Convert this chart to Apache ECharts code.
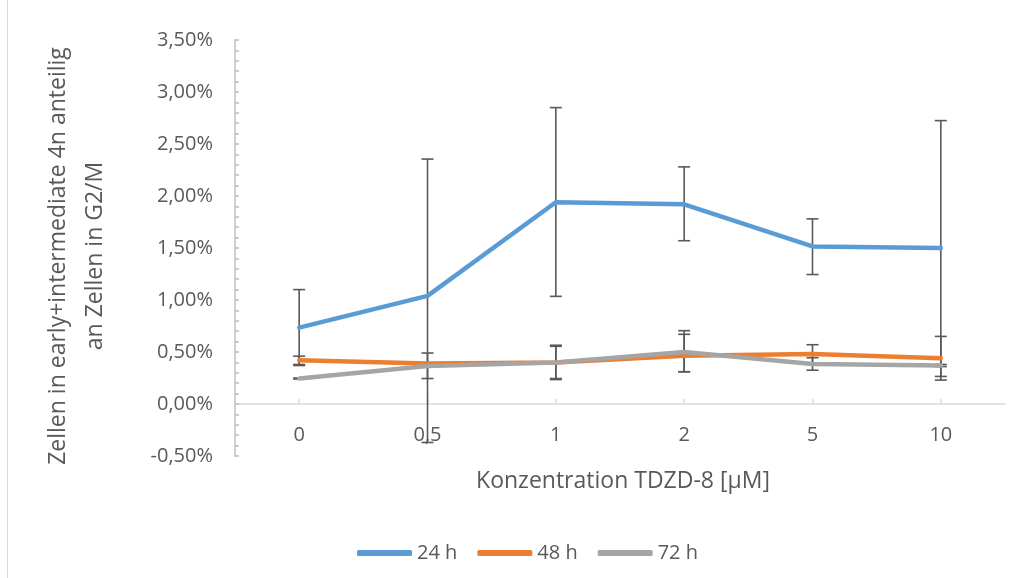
<!DOCTYPE html>
<html>
<head>
<meta charset="utf-8">
<script src="https://cdn.jsdelivr.net/npm/echarts@6/dist/echarts.min.js"></script>
<style>
html,body{margin:0;padding:0;background:#fff;}
#chart{width:1024px;height:578px;}
</style>
</head>
<body>
<div id="chart"></div>
<script>
// Categories (TDZD-8 concentration, µM)
const categories = ['0', '0,5', '1', '2', '5', '10'];
// Mean values in percent
const h24 = [0.735, 1.04, 1.94, 1.92, 1.515, 1.50];
const h48 = [0.42, 0.39, 0.40, 0.465, 0.48, 0.44];
const h72 = [0.245, 0.365, 0.40, 0.50, 0.385, 0.37];
// Error bar extents (plus / minus) in percent
const h24Plus  = [0.365, 1.315, 0.91, 0.36, 0.265, 1.225];
const h24Minus = [0.365, 1.41, 0.905, 0.35, 0.27, 1.235];
const h48Plus  = [0.04, 0.005, 0.165, 0.205, 0.09, 0.21];
const h48Minus = [0.04, 0.005, 0.165, 0.155, 0.09, 0.21];
const h72Plus  = [0.005, 0.125, 0.155, 0.205, 0.06, 0.01];
const h72Minus = [0.005, 0.12, 0.155, 0.19, 0.06, 0.01];
const seriesNames = ['24 h', '48 h', '72 h'];
const yTicks = [-0.5, 0, 0.5, 1, 1.5, 2, 2.5, 3, 3.5];

const colors = ['#5B9BD5', '#ED7D31', '#A5A5A5'];
const FONT = '"Open Sans", sans-serif';
const TXT = '#595959';

function errData(mean, plus, minus) {
  return mean.map((v, i) => [i, v - minus[i], v + plus[i]]);
}
function errSeries(name, data) {
  return {
    type: 'custom',
    name: name + ' err',
    data: data,
    silent: true,
    renderItem: function (params, api) {
      const i = api.value(0);
      const lo = api.coord([i, api.value(1)]);
      const hi = api.coord([i, api.value(2)]);
      const w = 6;
      const st = {stroke: '#595959', lineWidth: 1.6};
      return {
        type: 'group',
        children: [
          {type: 'line', shape: {x1: lo[0], y1: lo[1], x2: hi[0], y2: hi[1]}, style: st},
          {type: 'line', shape: {x1: lo[0] - w, y1: lo[1], x2: lo[0] + w, y2: lo[1]}, style: st},
          {type: 'line', shape: {x1: hi[0] - w, y1: hi[1], x2: hi[0] + w, y2: hi[1]}, style: st}
        ]
      };
    }
  };
}
function lineSeries(name, data, color) {
  return {
    type: 'line',
    name: name,
    data: data,
    symbol: 'none',
    color: color,
    lineStyle: {color: color, width: 4.5, cap: 'round', join: 'round'},
    emphasis: {disabled: true}
  };
}

const chart = echarts.init(document.getElementById('chart'));
chart.setOption({
  animation: false,
  backgroundColor: '#fff',
  grid: {left: 235, right: 19, top: 40, bottom: 122},
  legend: {
    data: seriesNames,
    left: 352,
    top: 538,
    icon: 'roundRect',
    itemWidth: 55,
    itemHeight: 6,
    itemGap: 20,
    textStyle: {fontFamily: FONT, fontSize: 20, color: TXT}
  },
  xAxis: {
    type: 'category',
    data: categories,
    boundaryGap: true,
    axisLine: {onZero: true, lineStyle: {color: '#D9D9D9', width: 1.5}},
    axisTick: {show: true, inside: true, length: 5, alignWithLabel: true, lineStyle: {color: '#D9D9D9', width: 1.5}},
    axisLabel: {fontFamily: FONT, fontSize: 20, color: TXT, margin: -31},
    splitLine: {show: false}
  },
  yAxis: {
    type: 'value',
    min: yTicks[0],
    max: yTicks[yTicks.length - 1],
    interval: 0.5,
    axisLine: {show: true, lineStyle: {color: '#BFBFBF', width: 1.5}},
    axisTick: {show: true, inside: true, length: 4, lineStyle: {color: '#BFBFBF', width: 1.5}},
    minorTick: {show: true, splitNumber: 5, length: 4, lineStyle: {color: '#BFBFBF', width: 1.5}},
    axisLabel: {
      fontFamily: FONT, fontSize: 20, color: TXT, margin: 22,
      formatter: v => v.toFixed(2).replace('.', ',') + '%'
    },
    splitLine: {show: false}
  },
  graphic: [
    {type: 'line', shape: {x1: 7.5, y1: 0, x2: 7.5, y2: 578}, style: {stroke: '#D9D9D9', lineWidth: 1}},
    {type: 'text', x: 623, y: 481, style: {text: 'Konzentration TDZD-8 [µM]', font: '23px ' + FONT, fill: TXT, align: 'center', verticalAlign: 'middle'}},
    {type: 'text', x: 77, y: 256, rotation: Math.PI / 2,
     style: {text: 'Zellen in early+intermediate 4n anteilig\nan Zellen in G2/M', font: '23px ' + FONT, fill: TXT, align: 'center', verticalAlign: 'middle', lineHeight: 37}}
  ],
  series: [
    lineSeries(seriesNames[0], h24, colors[0]),
    errSeries(seriesNames[0], errData(h24, h24Plus, h24Minus)),
    lineSeries(seriesNames[1], h48, colors[1]),
    errSeries(seriesNames[1], errData(h48, h48Plus, h48Minus)),
    lineSeries(seriesNames[2], h72, colors[2]),
    errSeries(seriesNames[2], errData(h72, h72Plus, h72Minus))
  ]
});
</script>
</body>
</html>
